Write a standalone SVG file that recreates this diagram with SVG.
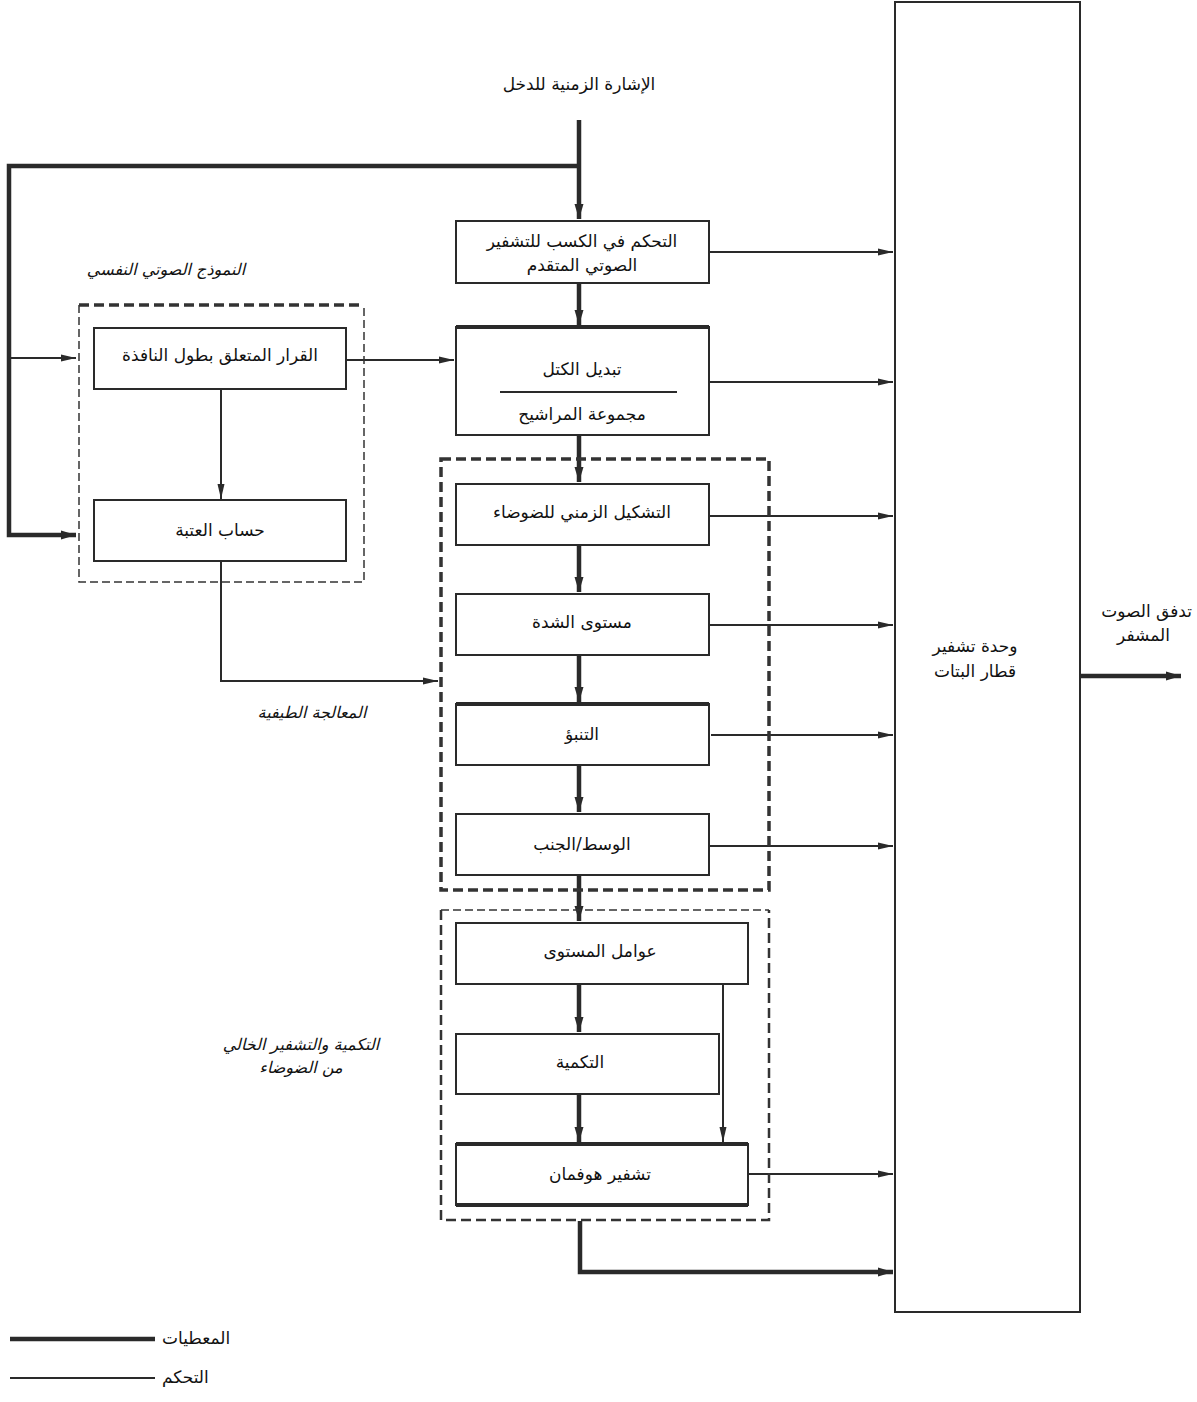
<svg xmlns="http://www.w3.org/2000/svg" width="1197" height="1402" viewBox="0 0 1197 1402">
<style>
text{font-family:"DejaVu Sans","Liberation Serif",serif;font-size:17px;fill:#111}
.it{font-style:italic;font-size:16px}
.box{fill:#fff;stroke:#2a2a2a;stroke-width:2}
.thk{stroke:#2a2a2a;stroke-width:4.5;fill:none}
.thn{stroke:#2a2a2a;stroke-width:2;fill:none}
.dthin{stroke:#333;stroke-width:1.5;fill:none;stroke-dasharray:8 4}
.dthick{stroke:#333;stroke-width:3.5;fill:none;stroke-dasharray:10 5}
</style>
<defs>
<marker id="a" markerUnits="userSpaceOnUse" markerWidth="16" markerHeight="10" refX="15" refY="5" orient="auto">
<path d="M0,1.5 L15,5 L0,8.5 z" fill="#2a2a2a"/>
</marker>
<marker id="b" markerUnits="userSpaceOnUse" markerWidth="16" markerHeight="12" refX="15" refY="6" orient="auto">
<path d="M0,1.5 L15,6 L0,10.5 z" fill="#2a2a2a"/>
</marker>
</defs>

<g id="connectors">
<path class="thk" d="M579,120 V219" marker-end="url(#b)"/>
<path class="thk" d="M579,166 H9 V535 H76" marker-end="url(#b)"/>
<path class="thn" d="M9,358 H76" marker-end="url(#a)"/>
<path class="thk" d="M579,284 V325" marker-end="url(#b)"/>
<path class="thk" d="M579,436 V482" marker-end="url(#b)"/>
<path class="thk" d="M579,546 V592" marker-end="url(#b)"/>
<path class="thk" d="M579,656 V702" marker-end="url(#b)"/>
<path class="thk" d="M579,766 V812" marker-end="url(#b)"/>
<path class="thk" d="M579,876 V921" marker-end="url(#b)"/>
<path class="thk" d="M579,985 V1032" marker-end="url(#b)"/>
<path class="thk" d="M579,1095 V1142" marker-end="url(#b)"/>
<path class="thn" d="M723,985 V1142" marker-end="url(#a)"/>
<path class="thk" d="M580,1221 V1272 H893" marker-end="url(#b)"/>
<path class="thn" d="M346,360 H454" marker-end="url(#a)"/>
<path class="thn" d="M221,390 V499" marker-end="url(#a)"/>
<path class="thn" d="M221,562 V681 H438" marker-end="url(#a)"/>
<path class="thn" d="M710,252 H893" marker-end="url(#a)"/>
<path class="thn" d="M710,382 H893" marker-end="url(#a)"/>
<path class="thn" d="M710,516 H893" marker-end="url(#a)"/>
<path class="thn" d="M710,625 H893" marker-end="url(#a)"/>
<path class="thn" d="M711,735 H893" marker-end="url(#a)"/>
<path class="thn" d="M710,846 H893" marker-end="url(#a)"/>
<path class="thn" d="M749,1174 H893" marker-end="url(#a)"/>
<path class="thk" d="M1081,676 H1181" marker-end="url(#b)"/>
</g>

<g id="input-label">
<text x="579" y="90" text-anchor="middle">الإشارة الزمنية للدخل</text>
</g>

<g id="psycho-group">
<path class="dthick" d="M79,305 H364"/>
<path class="dthin" d="M79,305 V582 H364 V305"/>
<text class="it" x="166" y="275" text-anchor="middle">النموذج الصوتي النفسي</text>
</g>

<g id="spectral-group">
<rect class="dthick" x="441" y="459" width="328" height="431"/>
<text class="it" x="312" y="718" text-anchor="middle">المعالجة الطيفية</text>
</g>

<g id="quant-group">
<path class="dthin" d="M441,910 H769"/>
<path class="dthick" d="M441,910 V1220 H769 V910" style="stroke-width:2.5"/>
<text class="it" x="301" y="1050" text-anchor="middle">التكمية والتشفير الخالي</text>
<text class="it" x="301" y="1073" text-anchor="middle">من الضوضاء</text>
</g>

<g id="gain">
<rect class="box" x="456" y="221" width="253" height="62"/>
<text x="582" y="247" text-anchor="middle">التحكم في الكسب للتشفير</text>
<text x="582" y="271" text-anchor="middle">الصوتي المتقدم</text>
</g>

<g id="filterbank">
<rect class="box" x="456" y="327" width="253" height="108"/>
<path class="thk" d="M456,327 H709" style="stroke-width:4"/>
<text x="582" y="375" text-anchor="middle">تبديل الكتل</text>
<path class="thn" d="M500,392 H677"/>
<text x="582" y="420" text-anchor="middle">مجموعة المراشيح</text>
</g>

<g id="window">
<rect class="box" x="94" y="328" width="252" height="61"/>
<text x="220" y="361" text-anchor="middle">القرار المتعلق بطول النافذة</text>
</g>

<g id="threshold">
<rect class="box" x="94" y="500" width="252" height="61"/>
<text x="220" y="536" text-anchor="middle">حساب العتبة</text>
</g>

<g id="tns">
<rect class="box" x="456" y="484" width="253" height="61"/>
<text x="582" y="518" text-anchor="middle">التشكيل الزمني للضوضاء</text>
</g>

<g id="intensity">
<rect class="box" x="456" y="594" width="253" height="61"/>
<text x="582" y="628" text-anchor="middle">مستوى الشدة</text>
</g>

<g id="prediction">
<rect class="box" x="456" y="704" width="253" height="61"/>
<path class="thk" d="M456,704 H709" style="stroke-width:4"/>
<text x="582" y="740" text-anchor="middle">التنبؤ</text>
</g>

<g id="ms">
<rect class="box" x="456" y="814" width="253" height="61"/>
<text x="582" y="850" text-anchor="middle">الوسط/الجنب</text>
</g>

<g id="scalefactors">
<rect class="box" x="456" y="923" width="292" height="61"/>
<text x="600" y="957" text-anchor="middle">عوامل المستوى</text>
</g>

<g id="quantization">
<rect class="box" x="456" y="1034" width="263" height="60"/>
<text x="580" y="1068" text-anchor="middle">التكمية</text>
</g>

<g id="huffman">
<rect class="box" x="456" y="1144" width="292" height="61"/>
<path class="thk" d="M456,1144 H748" style="stroke-width:4"/>
<path class="thk" d="M456,1205 H748" style="stroke-width:4"/>
<text x="600" y="1180" text-anchor="middle">تشفير هوفمان</text>
</g>

<g id="bitstream">
<rect class="box" x="895" y="2" width="185" height="1310"/>
<text x="975" y="652" text-anchor="middle">وحدة تشفير</text>
<text x="975" y="677" text-anchor="middle">قطار البتات</text>
</g>

<g id="output-label">
<text x="1192" y="617" text-anchor="end">تدفق الصوت</text>
<text x="1117" y="641">المشفر</text>
</g>

<g id="legend">
<path class="thk" d="M10,1339 H155"/>
<text x="162" y="1344">المعطيات</text>
<path class="thn" d="M10,1378 H155"/>
<text x="162" y="1383">التحكم</text>
</g>
</svg>
